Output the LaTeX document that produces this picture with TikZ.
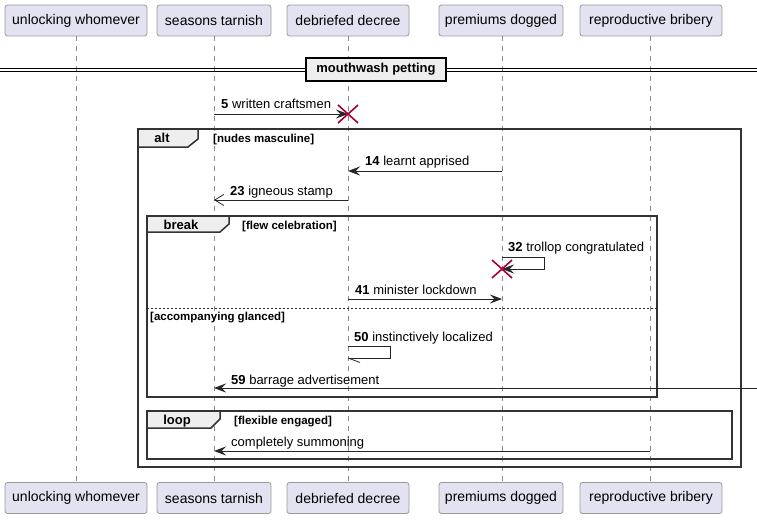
\documentclass[tikz,border=0pt]{standalone}
\usepackage{fontspec}
\setmainfont{Liberation Sans}
\usetikzlibrary{arrows.meta}
\definecolor{pbox}{HTML}{E2E2F0}
\definecolor{pborder}{HTML}{9A9A9A}
\definecolor{xred}{HTML}{A80036}
\definecolor{hdr}{HTML}{EEEEEE}
\definecolor{lifec}{HTML}{8A8A8A}
\definecolor{framec}{HTML}{333333}
\tikzset{
  part/.style={draw=pborder, fill=pbox, rounded corners=2.5pt, line width=0.8pt, minimum height=31pt, inner sep=0pt, font=\fontsize{14}{16}\selectfont},
  life/.style={draw=lifec, line width=0.7pt, dash pattern=on 5pt off 5pt},
  msg/.style={draw=black!85, line width=1pt, -{Stealth[length=12pt,width=9pt,inset=4.5pt]}},
  openmsg/.style={draw=black!85, line width=1pt, -{Straight Barb[length=9pt,width=11pt,line width=0.8pt]}},
  selfmsg/.style={draw=black!85, line width=1pt},
  lbl/.style={anchor=base west, inner sep=0pt, font=\fontsize{13}{15}\selectfont},
  guard/.style={anchor=base west, inner sep=0pt, font=\fontsize{11.5}{13}\selectfont\bfseries},
  frm/.style={draw=framec, line width=1.5pt},
  tab/.style={draw=framec, line width=1.5pt, fill=hdr},
  tabtxt/.style={anchor=base, inner sep=0pt, font=\fontsize{13}{15}\selectfont\bfseries},
  destroy/.style={draw=xred, line width=1.6pt},
}
\begin{document}
\begin{tikzpicture}[x=1pt,y=-1pt]
\useasboundingbox (0,0) rectangle (757,519);
% participants
\node[part, minimum width=142pt] (p1t) at (76,20.5) {unlocking whomever};
\node[part, minimum width=114pt] (p2t) at (214,20.5) {seasons tarnish};
\node[part, minimum width=122pt] (p3t) at (348,20.5) {debriefed decree};
\node[part, minimum width=124pt] (p4t) at (501,20.5) {premiums dogged};
\node[part, minimum width=142pt] (p5t) at (651,20.5) {reproductive bribery};
\node[part, minimum width=142pt] (p1b) at (76,498) {unlocking whomever};
\node[part, minimum width=114pt] (p2b) at (214,498) {seasons tarnish};
\node[part, minimum width=122pt] (p3b) at (348,498) {debriefed decree};
\node[part, minimum width=124pt] (p4b) at (501,498) {premiums dogged};
\node[part, minimum width=142pt] (p5b) at (651,498) {reproductive bribery};
% lifelines
\draw[life] (p1t) -- (p1b);
\draw[life] (p2t) -- (p2b);
\draw[life] (p3t) -- (p3b);
\draw[life] (p4t.south -| 502,0) -- (p4b.north -| 502,0);
\draw[life] (p5t.south -| 650,0) -- (p5b.north -| 650,0);
% separator
\coordinate (sepL1) at (0,68);
\coordinate (sepR1) at (757,68);
\coordinate (sepL2) at (0,71);
\coordinate (sepR2) at (757,71);
\draw[black, line width=1pt] (sepL1) -- (sepR1) (sepL2) -- (sepR2);
\node[draw=black, line width=1.5pt, fill=hdr, minimum width=140pt, minimum height=23pt, inner sep=0pt, font=\fontsize{13}{15}\selectfont\bfseries] (sep) at (376,69.5) {mouthwash petting};
% message 5
\coordinate (m5a) at (214,114);
\coordinate (m5b) at (348,114);
\draw[msg] (m5a) -- (m5b);
\node[lbl] (l5) at (221,108.5) {\textbf{5} written craftsmen};
\coordinate (x5) at (348,114);
\draw[destroy] ([shift={(-10,-9)}]x5) -- ([shift={(10,9)}]x5) ([shift={(-10,9)}]x5) -- ([shift={(10,-9)}]x5);
% alt frame
\draw[frm] (138,129) rectangle (741,467);
\draw[tab] (138,129) -- (198,129) -- (198,139) -- (188,147) -- (138,147) -- cycle;
\node[tabtxt] (altt) at (162,142.5) {alt};
\node[guard] (altg) at (213,142) {[nudes masculine]};
% message 14
\coordinate (m14a) at (502,171);
\coordinate (m14b) at (348,171);
\draw[msg] (m14a) -- (m14b);
\node[lbl] (l14) at (365,165) {\textbf{14} learnt apprised};
% message 23
\coordinate (m23a) at (348,200);
\coordinate (m23b) at (214,200);
\draw[openmsg] (m23a) -- (m23b);
\node[lbl] (l23) at (230,195) {\textbf{23} igneous stamp};
% break frame
\draw[frm] (147,216) rectangle (657,397);
\draw[tab] (147,216) -- (229,216) -- (229,224) -- (220,232) -- (147,232) -- cycle;
\node[tabtxt] (brkt) at (181,229.5) {break};
\node[guard] (brkg) at (242,229) {[flew celebration]};
% message 32
\coordinate (m32a) at (502,257);
\coordinate (m32b) at (502,269);
\draw[selfmsg, -{Stealth[length=12pt,width=9pt,inset=4.5pt]}] (m32a) -- (544,257) -- (544,269) -- (m32b);
\node[lbl] (l32) at (508,251) {\textbf{32} trollop congratulated};
\draw[destroy] ([shift={(-10,-9)}]m32b) -- ([shift={(10,9)}]m32b) ([shift={(-10,9)}]m32b) -- ([shift={(10,-9)}]m32b);
% message 41
\coordinate (m41a) at (348,299);
\coordinate (m41b) at (502,299);
\draw[msg] (m41a) -- (m41b);
\node[lbl] (l41) at (355,294) {\textbf{41} minister lockdown};
% else separator
\coordinate (elseL) at (147,308);
\coordinate (elseR) at (657,308);
\draw[black!85, line width=0.6pt, dash pattern=on 2pt off 2pt] (elseL) -- (elseR);
\node[guard] (elseg) at (150,320) {[accompanying glanced]};
% message 50
\coordinate (m50a) at (348,346);
\coordinate (m50b) at (348,358);
\draw[selfmsg] (m50a) -- (390,346) -- (390,358) -- (m50b);
\draw[black!85, line width=0.8pt] (m50b) -- ++(12,4.5);
\node[lbl] (l50) at (354,341) {\textbf{50} instinctively localized};
% message 59
\coordinate (m59a) at (757,388);
\coordinate (m59b) at (214,388);
\draw[msg] (m59a) -- (m59b);
\node[lbl] (l59) at (231,384) {\textbf{59} barrage advertisement};
% loop frame
\draw[frm] (147,411) rectangle (732,459);
\draw[tab] (147,411) -- (220,411) -- (220,419) -- (211,428) -- (147,428) -- cycle;
\node[tabtxt] (loopt) at (177,424.5) {loop};
\node[guard] (loopg) at (234,424) {[flexible engaged]};
% last message
\coordinate (mla) at (650,451);
\coordinate (mlb) at (214,451);
\draw[msg] (mla) -- (mlb);
\node[lbl] (ll) at (231,446) {completely summoning};
\end{tikzpicture}
\end{document}
